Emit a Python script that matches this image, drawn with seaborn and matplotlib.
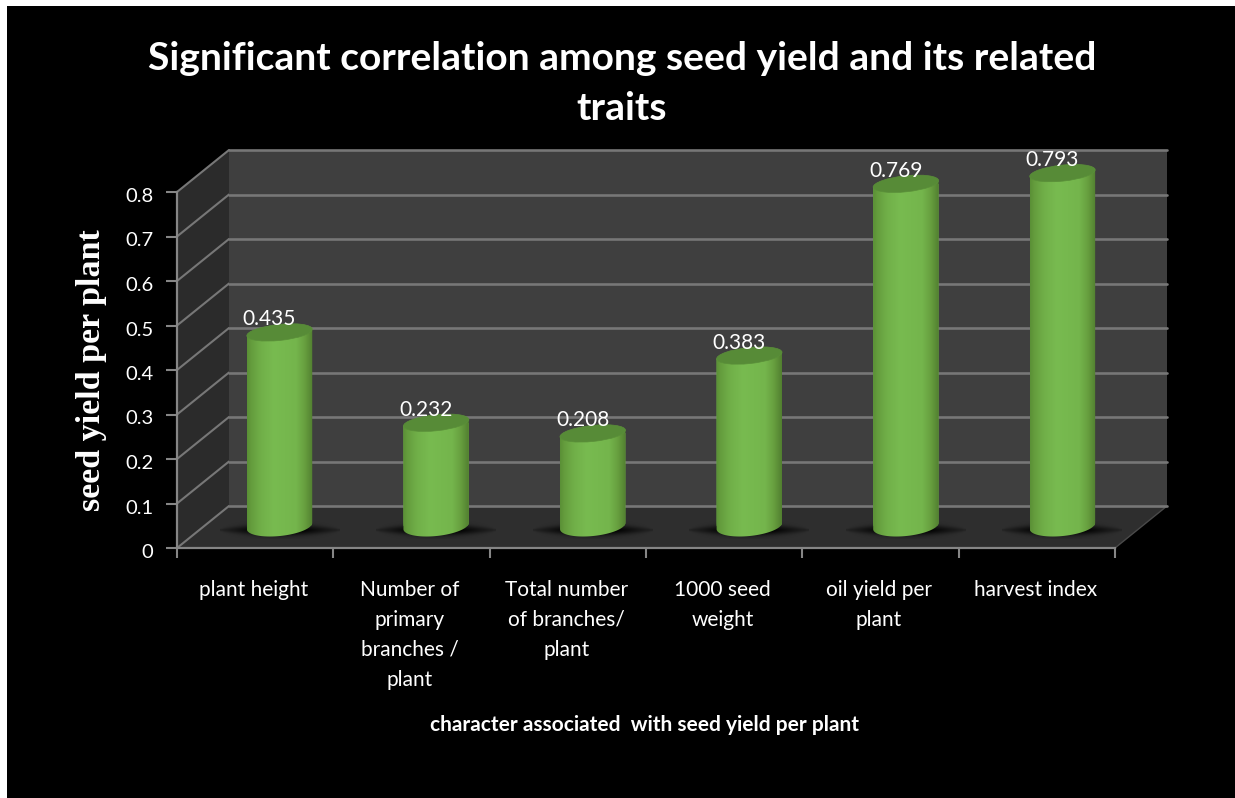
import numpy as np
import matplotlib
matplotlib.use("Agg")
import matplotlib.pyplot as plt
from matplotlib.patches import Rectangle, Polygon, Ellipse, PathPatch
from matplotlib.path import Path
from matplotlib.colors import LinearSegmentedColormap
from matplotlib.transforms import ScaledTranslation
import seaborn as sns

categories = ["plant height", "Number of\nprimary\nbranches /\nplant", "Total number\nof branches/\nplant",
              "1000 seed\nweight", "oil yield per\nplant", "harvest index"]
values = [0.435, 0.232, 0.208, 0.383, 0.769, 0.793]
value_labels = ["0.435", "0.232", "0.208", "0.383", "0.769", "0.793"]
y_ticks = [0, 0.1, 0.2, 0.3, 0.4, 0.5, 0.6, 0.7, 0.8]
y_tick_labels = ["0", "0.1", "0.2", "0.3", "0.4", "0.5", "0.6", "0.7", "0.8"]
title = "Significant correlation among seed yield and its related\ntraits"
y_label = "seed yield per plant"
x_label = "character associated  with seed yield per plant"

W, H = 1235, 798
sns.set_style("white")
plt.rcParams["font.family"] = ["Lato", "DejaVu Sans"]
GRID = "#777777"
AXIS = "#868686"

def axes_px(fig, x0, y0, x1, y1, **kw):
    return fig.add_axes([x0 / W, 1 - y1 / H, (x1 - x0) / W, (y1 - y0) / H], **kw)

fig = plt.figure(figsize=(W / 100, H / 100), dpi=100, facecolor="white")

# pixel-space layers
under = axes_px(fig, 0, 0, W, H, zorder=0)
under.set_xlim(0, W); under.set_ylim(H, 0); under.axis("off")
under.add_patch(Rectangle((7, 6), W - 7, H - 6, fc="black", ec="none"))

fx0, fx1, fy0, fy1 = 177, 1115, 548, 192   # front plane
dx, dy = 52, -42                            # depth offset

# side wall and floor
under.add_patch(Polygon([(fx0, fy0), (fx0 + dx, fy0 + dy), (fx0 + dx, fy1 + dy), (fx0, fy1)], fc="#2b2b2b", ec="none"))
under.add_patch(Polygon([(fx0, fy0), (fx0 + dx, fy0 + dy), (fx1 + dx, fy0 + dy), (fx1, fy0)], fc="#2e2e2e", ec="none"))

# back wall
back = axes_px(fig, fx0 + dx, fy1 + dy, fx1 + dx, fy0 + dy, zorder=1, facecolor="#3f3f3f")
back.set_ylim(0, 0.8); back.set_xlim(0, 1)
back.set_yticks(y_ticks); back.set_xticks([])
back.tick_params(left=False, labelleft=False)
back.grid(axis="y", color=GRID, lw=1.9, clip_on=False)
for s in back.spines.values():
    s.set_visible(False)

# depth lines on the side wall
for t in y_ticks:
    py = fy0 + (fy1 - fy0) * t / 0.8
    under.plot([fx0, fx0 + dx], [py, py + dy], color=GRID, lw=1.5, zorder=3)
under.plot([fx1, fx1 + dx], [fy0, fy0 + dy], color="#4a4a4a", lw=1, zorder=3)

# front axes: ticks and labels
front = axes_px(fig, fx0, fy1, fx1, fy0, zorder=2, facecolor="none")
front.set_ylim(0, 0.8); front.set_xlim(0, len(categories))
front.set_yticks(y_ticks, y_tick_labels, color="white", fontsize=14.5)
front.set_xticks(np.arange(len(categories) + 1), [""] * (len(categories) + 1))
front.set_xticks(np.arange(len(categories)) + 0.5, categories, minor=True, color="white", fontsize=15, linespacing=1.62)
front.tick_params(axis="x", which="minor", length=0, pad=23, labelcolor="white")
front.tick_params(axis="x", which="major", length=7, width=1.5, color=AXIS, direction="out", bottom=True)
front.tick_params(axis="y", length=8, width=1.5, color=AXIS, pad=9, direction="out", left=True)
for lab in front.get_yticklabels():
    lab.set_transform(lab.get_transform() + ScaledTranslation(0, -3 / 100, fig.dpi_scale_trans))
for lab in front.get_xticklabels(minor=True):
    lab.set_verticalalignment("top")
    lab.set_transform(lab.get_transform() + ScaledTranslation(-1.5 / 100, 0, fig.dpi_scale_trans))
for name, s in front.spines.items():
    s.set_visible(name in ("left", "bottom"))
    s.set_color(AXIS); s.set_linewidth(1.6)

# bars
bx0, bx1, by0 = 201.25, 1140.75, 526
ax = axes_px(fig, bx0, by0 - 445 * 0.8, bx1, by0, zorder=3, facecolor="none")
sns.barplot(x=categories, y=values, color="#74b54c", width=0.42, saturation=1, linewidth=0, edgecolor="none", ax=ax)
ax.set_xlim(-0.5, len(categories) - 0.5); ax.set_ylim(0, 0.8)
ax.axis("off")

top = axes_px(fig, 0, 0, W, H, zorder=4, facecolor="none")
top.set_xlim(0, W); top.set_ylim(H, 0); top.axis("off")

def to_px(x, y):
    d = ax.transData.transform((x, y))
    return d[0] * 100 / fig.dpi, H - d[1] * 100 / fig.dpi

cyl = LinearSegmentedColormap.from_list("cyl", [(0, "#5a8f36"), (0.06, "#649c3d"), (0.2, "#70ae48"), (0.4, "#78bb50"),
                                               (0.75, "#74b54c"), (0.88, "#679f3f"), (1, "#527f30")])
grad = np.linspace(0, 1, 128).reshape(1, -1)
theta = np.deg2rad(-6)

def ell(cx, cy, a, b, t):
    ex, ey = a * np.cos(t), b * np.sin(t)
    return cx + ex * np.cos(theta) - ey * np.sin(theta), cy + ex * np.sin(theta) + ey * np.cos(theta)

# shadow kernel
sx, sy = np.meshgrid(np.linspace(-1, 1, 160), np.linspace(-1, 1, 50))
sh = np.zeros((50, 160, 4))
sh[..., 3] = np.clip(1.2 * np.exp(-(np.abs(sx) ** 2) * 1.6 - (sy ** 2) * 3.0 / np.maximum(1 - np.abs(sx) ** 2, 0.04)), 0, 0.9)

for i, (rect, lab) in enumerate(zip(ax.patches, value_labels)):
    cx0 = rect.get_x(); w = rect.get_width(); v = rect.get_height()
    xc, yb = to_px(cx0 + w / 2, 0)
    xl, _ = to_px(cx0, 0); xr, yt = to_px(cx0 + w, v)
    a = (xr - xl) / 2
    top.imshow(sh, extent=(xc - 60, xc + 60, yb + 13, yb - 5), aspect="auto", zorder=1, interpolation="bilinear")
    t_arc = np.linspace(np.pi, 0, 60)
    bx, by = ell(xc, yb, a, 10, t_arc)
    tl = ell(xc, yt, a, 8, np.pi); tr = ell(xc, yt, a, 8, 0)
    verts = [tl] + list(zip(bx, by)) + [tr, tl]
    clip = PathPatch(Path(verts), transform=top.transData, fc="none", ec="none")
    top.add_patch(clip)
    rect.set_clip_path(clip)
    im = top.imshow(grad, cmap=cyl, extent=(xl, xr, yb + 14, yt - 12), aspect="auto", zorder=2, interpolation="bilinear")
    im.set_clip_path(clip)
    top.add_patch(Ellipse((xc, yt), 2 * a, 16, angle=-6, fc="#578b37", ec="#5a8f39", lw=0.5, zorder=3))
    top.text(xc - 10, yt - 13, lab, color="white", fontsize=15, ha="center", va="center", zorder=5)
top.set_xlim(0, W); top.set_ylim(H, 0)

top.text(622, 83.5, title, color="white", fontsize=28.1, fontweight="bold", ha="center", va="center", linespacing=1.52)
top.text(645, 725, x_label, color="white", fontsize=15, fontweight="bold", ha="center", va="center")
top.text(92, 370, y_label, color="white", fontsize=24.5, fontweight="bold", rotation=90, ha="center", va="center",
         family="Liberation Serif")

fig.savefig("out.png", dpi=100, facecolor="white")
